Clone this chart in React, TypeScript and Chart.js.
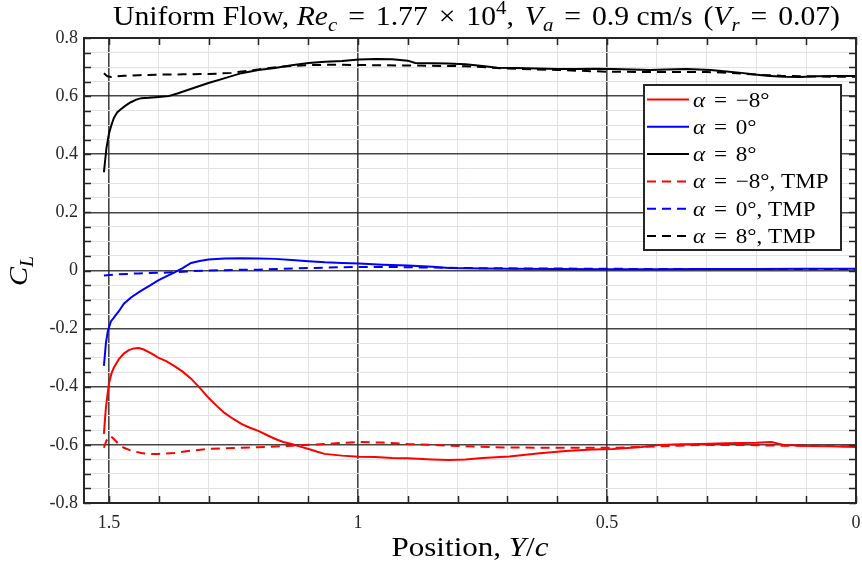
import React, { useEffect, useRef } from 'react';
import { Chart, registerables } from 'chart.js';

Chart.register(...registerables);

// ---------- data ----------
const RED_X = [1.510, 1.508, 1.506, 1.503, 1.500, 1.495, 1.490, 1.480, 1.470, 1.460, 1.450, 1.440, 1.430, 1.415, 1.401, 1.385, 1.369, 1.352, 1.335, 1.318, 1.300, 1.284, 1.268, 1.251, 1.234, 1.217, 1.200, 1.183, 1.167, 1.150, 1.133, 1.116, 1.099, 1.083, 1.067, 1.032, 0.998, 0.965, 0.931, 0.900, 0.851, 0.817, 0.784, 0.750, 0.696, 0.640, 0.583, 0.530, 0.488, 0.430, 0.393, 0.350, 0.313, 0.260, 0.200, 0.170, 0.145, 0.100, 0.050, 0.000];
const RED_Y = [-0.562, -0.515, -0.472, -0.430, -0.390, -0.355, -0.334, -0.305, -0.286, -0.274, -0.268, -0.267, -0.272, -0.285, -0.300, -0.312, -0.328, -0.348, -0.372, -0.403, -0.438, -0.465, -0.490, -0.510, -0.528, -0.541, -0.552, -0.566, -0.579, -0.590, -0.597, -0.606, -0.614, -0.623, -0.631, -0.637, -0.641, -0.642, -0.645, -0.646, -0.650, -0.652, -0.650, -0.645, -0.640, -0.630, -0.621, -0.616, -0.614, -0.607, -0.600, -0.598, -0.597, -0.594, -0.593, -0.590, -0.600, -0.604, -0.605, -0.607];

const BLUE_X = [1.510, 1.506, 1.502, 1.496, 1.490, 1.480, 1.470, 1.455, 1.435, 1.418, 1.401, 1.385, 1.369, 1.352, 1.335, 1.318, 1.300, 1.268, 1.234, 1.200, 1.167, 1.133, 1.099, 1.066, 1.032, 0.998, 0.950, 0.900, 0.850, 0.817, 0.750, 0.700, 0.600, 0.500, 0.400, 0.300, 0.200, 0.100, 0.000];
const BLUE_Y = [-0.328, -0.250, -0.207, -0.175, -0.162, -0.140, -0.114, -0.092, -0.069, -0.052, -0.034, -0.020, -0.007, 0.008, 0.026, 0.033, 0.038, 0.041, 0.042, 0.041, 0.040, 0.036, 0.032, 0.028, 0.026, 0.024, 0.020, 0.017, 0.013, 0.009, 0.007, 0.006, 0.005, 0.004, 0.004, 0.005, 0.005, 0.006, 0.006];

const BLACK_X = [1.510, 1.505, 1.500, 1.496, 1.490, 1.483, 1.476, 1.466, 1.456, 1.445, 1.435, 1.420, 1.400, 1.380, 1.361, 1.330, 1.300, 1.267, 1.234, 1.200, 1.167, 1.133, 1.099, 1.066, 1.032, 0.998, 0.965, 0.931, 0.900, 0.885, 0.850, 0.820, 0.784, 0.750, 0.720, 0.683, 0.640, 0.600, 0.560, 0.520, 0.488, 0.450, 0.413, 0.380, 0.340, 0.292, 0.260, 0.230, 0.212, 0.180, 0.145, 0.111, 0.080, 0.040, 0.000];
const BLACK_Y = [0.338, 0.420, 0.470, 0.495, 0.525, 0.545, 0.555, 0.568, 0.579, 0.588, 0.593, 0.594, 0.597, 0.600, 0.610, 0.628, 0.645, 0.662, 0.679, 0.690, 0.697, 0.706, 0.714, 0.718, 0.721, 0.726, 0.728, 0.727, 0.722, 0.714, 0.713, 0.712, 0.710, 0.704, 0.698, 0.697, 0.695, 0.693, 0.693, 0.694, 0.693, 0.692, 0.690, 0.692, 0.693, 0.690, 0.685, 0.680, 0.676, 0.670, 0.667, 0.666, 0.668, 0.669, 0.669];

const RED_TMP_X = [1.510, 1.505, 1.497, 1.490, 1.480, 1.470, 1.455, 1.435, 1.418, 1.401, 1.385, 1.369, 1.335, 1.300, 1.268, 1.200, 1.133, 1.066, 0.998, 0.950, 0.900, 0.850, 0.784, 0.700, 0.600, 0.488, 0.400, 0.313, 0.250, 0.200, 0.150, 0.100, 0.050, 0.000];
const RED_TMP_Y = [-0.610, -0.585, -0.569, -0.580, -0.598, -0.610, -0.620, -0.628, -0.631, -0.631, -0.630, -0.628, -0.620, -0.614, -0.612, -0.608, -0.603, -0.597, -0.590, -0.592, -0.597, -0.600, -0.605, -0.609, -0.610, -0.610, -0.605, -0.600, -0.600, -0.601, -0.603, -0.603, -0.604, -0.605];

const BLUE_TMP_X = [1.510, 1.480, 1.440, 1.400, 1.369, 1.330, 1.300, 1.250, 1.200, 1.150, 1.067, 1.000, 0.931, 0.850, 0.750, 0.650, 0.500, 0.400, 0.300, 0.200, 0.100, 0.000];
const BLUE_TMP_Y = [-0.017, -0.013, -0.010, -0.008, -0.006, -0.002, 0.000, 0.002, 0.003, 0.006, 0.010, 0.012, 0.012, 0.010, 0.008, 0.007, 0.006, 0.005, 0.005, 0.005, 0.005, 0.005];

const BLACK_TMP_X = [1.510, 1.503, 1.495, 1.470, 1.440, 1.400, 1.350, 1.300, 1.254, 1.200, 1.150, 1.100, 1.050, 1.000, 0.950, 0.880, 0.784, 0.700, 0.600, 0.500, 0.400, 0.300, 0.250, 0.200, 0.150, 0.100, 0.050, 0.000];
const BLACK_TMP_Y = [0.679, 0.668, 0.666, 0.670, 0.672, 0.674, 0.675, 0.676, 0.680, 0.692, 0.702, 0.707, 0.708, 0.707, 0.706, 0.705, 0.703, 0.695, 0.690, 0.684, 0.683, 0.683, 0.680, 0.674, 0.670, 0.668, 0.667, 0.667];

const ANGLES = ['\u22128', '0', '8'];
const X_TICK_VALUES = [0, 0.5, 1, 1.5];
const X_TICK_LABELS = ['0', '0.5', '1', '1.5'];
const Y_TICK_VALUES = [-0.8, -0.6, -0.4, -0.2, 0, 0.2, 0.4, 0.6, 0.8];
const Y_TICK_LABELS = ['-0.8', '-0.6', '-0.4', '-0.2', '0', '0.2', '0.4', '0.6', '0.8'];
const X_MINOR_STEPS = [0, 1, 2, 3, 4, 5, 6, 7, 8, 9, 10, 11, 12, 13, 14, 15]; // tenths
const Y_MINOR_STEPS = Array.from({ length: 33 }, (_, i) => i - 16); // twentieths

const FONT = '"Liberation Serif", "DejaVu Serif", serif';
const AXIS_COLOR = '#262626';

type Seg = { t?: string; i?: boolean; sub?: boolean; sup?: boolean; g?: boolean };

function segFont(s: Seg, size: number) {
  const fs = s.sub || s.sup ? Math.round(size * 0.7) : size;
  return `${s.i ? 'italic ' : ''}${fs}px ${FONT}`;
}

function drawRich(
  ctx: CanvasRenderingContext2D, segs: Seg[], x: number, y: number, size: number,
  align: 'left' | 'center', opts: { target?: number; gap?: number; stretch?: number } = {},
) {
  const sx = opts.stretch ?? 1;
  let natural = 0;
  let nGaps = 0;
  for (const s of segs) {
    if (s.g) { nGaps++; continue; }
    ctx.font = segFont(s, size);
    natural += ctx.measureText(s.t || '').width;
  }
  let gap = opts.gap ?? 0;
  if (opts.target !== undefined && nGaps > 0) gap = (opts.target / sx - natural) / nGaps;
  const total = natural + gap * nGaps;
  ctx.save();
  ctx.translate(x, y);
  ctx.scale(sx, 1);
  let cx = align === 'center' ? -total / 2 : 0;
  ctx.textAlign = 'left';
  ctx.textBaseline = 'alphabetic';
  for (const s of segs) {
    if (s.g) { cx += gap; continue; }
    ctx.font = segFont(s, size);
    const dy = s.sub ? size * 0.22 : s.sup ? -size * 0.42 : 0;
    ctx.fillText(s.t || '', cx, dy);
    cx += ctx.measureText(s.t || '').width;
  }
  ctx.restore();
}

const G: Seg = { g: true };
const TITLE: Seg[] = [
  { t: 'Uniform Flow, ' }, { t: 'Re', i: true }, { t: 'c', i: true, sub: true },
  G, { t: '=' }, G, { t: '1.77' }, G, { t: '\u00d7' }, G, { t: '10' }, { t: '4', sup: true }, { t: ',' }, G,
  { t: 'V', i: true }, { t: 'a', i: true, sub: true }, G, { t: '=' }, G, { t: '0.9 cm/s' }, G, { t: '(' },
  { t: 'V', i: true }, { t: 'r', i: true, sub: true }, G, { t: '=' }, G, { t: '0.07)' },
];
const X_TITLE: Seg[] = [{ t: 'Position, ' }, { t: 'Y', i: true }, { t: '/' }, { t: 'c', i: true }];
const Y_TITLE: Seg[] = [{ t: 'C', i: true }, { t: 'L', i: true, sub: true }];

const pts = (xs: number[], ys: number[]) => xs.map((x, k) => ({ x, y: ys[k] }));

const isMajorX = (v: number) => X_TICK_VALUES.some((m) => Math.abs(m - v) < 1e-6);
const isMajorY = (v: number) => Y_TICK_VALUES.some((m) => Math.abs(m - v) < 1e-6);

const decorPlugin = {
  id: 'decor',
  afterDatasetsDraw(chart: any) {
    const ctx = chart.ctx as CanvasRenderingContext2D;
    const { left, right, top, bottom } = chart.chartArea;
    const xs = chart.scales.x;
    const ys = chart.scales.y;
    ctx.save();
    ctx.strokeStyle = AXIS_COLOR;
    ctx.lineWidth = 1.5;
    const tl = 7;
    ctx.beginPath();
    for (const s of X_MINOR_STEPS) {
      const px = Math.round(xs.getPixelForValue(s / 10)) + 0.5;
      ctx.moveTo(px, bottom); ctx.lineTo(px, bottom - tl);
      ctx.moveTo(px, top); ctx.lineTo(px, top + tl);
    }
    for (const s of Y_MINOR_STEPS) {
      const py = Math.round(ys.getPixelForValue(s / 20)) + 0.5;
      ctx.moveTo(left, py); ctx.lineTo(left + tl, py);
      ctx.moveTo(right, py); ctx.lineTo(right - tl, py);
    }
    ctx.stroke();
    ctx.lineWidth = 2;
    ctx.strokeRect(left, top, right - left, bottom - top);

    // legend
    const lx = right - 212, ly = top + 47, lw = 197, lh = 165;
    ctx.fillStyle = '#ffffff';
    ctx.fillRect(lx, ly, lw, lh);
    ctx.lineWidth = 2;
    ctx.strokeStyle = AXIS_COLOR;
    ctx.strokeRect(lx, ly, lw, lh);
    chart.data.datasets.forEach((ds: any) => {
      const row = ds.legendRow;
      const cy = ly + 14.5 + row * 27.3;
      ctx.beginPath();
      ctx.strokeStyle = ds.borderColor;
      ctx.lineWidth = 2;
      ctx.setLineDash(ds.borderDash || []);
      ctx.moveTo(lx + 3, cy); ctx.lineTo(lx + 45, cy);
      ctx.stroke();
      ctx.setLineDash([]);
      ctx.fillStyle = '#000';
      const segs: Seg[] = [{ t: '\u03b1', i: true }, G, { t: '=' }, G, { t: `${ANGLES[ds.angleIdx]}\u00b0${ds.tmp ? ', TMP' : ''}` }];
      drawRich(ctx, segs, lx + 49, cy + 7, 21, 'left', { gap: 8, stretch: 1.1 });
    });

    // titles
    ctx.fillStyle = '#000';
    drawRich(ctx, TITLE, 476.5, 25, 27, 'center', { target: 727, stretch: 1.1 });
    drawRich(ctx, X_TITLE, 470, 556, 27, 'center', { stretch: 1.15 });
    ctx.translate(27, 271);
    ctx.rotate(-Math.PI / 2);
    drawRich(ctx, Y_TITLE, 0, 0, 26, 'center', { stretch: 1.1 });
    ctx.restore();
  },
};

export default function App() {
  const ref = useRef<HTMLCanvasElement>(null);
  useEffect(() => {
    const mk = (label: string, xs: number[], ys: number[], color: string, tmp: boolean, angleIdx: number, legendRow: number) => ({
      label,
      data: pts(xs, ys),
      borderColor: color,
      backgroundColor: color,
      borderWidth: 2,
      borderDash: tmp ? [9, 6] : [],
      pointRadius: 0,
      fill: false,
      tension: 0,
      order: tmp ? 0 : 1,
      tmp,
      angleIdx,
      legendRow,
    });
    const chart = new Chart(ref.current!, {
      type: 'line',
      data: {
        datasets: [
          mk('\u03b1 = \u22128\u00b0', RED_X, RED_Y, '#ff0000', false, 0, 0),
          mk('\u03b1 = 0\u00b0', BLUE_X, BLUE_Y, '#0000ff', false, 1, 1),
          mk('\u03b1 = 8\u00b0', BLACK_X, BLACK_Y, '#000000', false, 2, 2),
          mk('\u03b1 = \u22128\u00b0, TMP', RED_TMP_X, RED_TMP_Y, '#ff0000', true, 0, 3),
          mk('\u03b1 = 0\u00b0, TMP', BLUE_TMP_X, BLUE_TMP_Y, '#0000ff', true, 1, 4),
          mk('\u03b1 = 8\u00b0, TMP', BLACK_TMP_X, BLACK_TMP_Y, '#000000', true, 2, 5),
        ] as any,
      },
      options: {
        responsive: false,
        animation: false,
        devicePixelRatio: 1,
        layout: { padding: { top: 38, right: 6, left: 0, bottom: 0 } },
        plugins: { legend: { display: false }, tooltip: { enabled: false }, title: { display: false } },
        scales: {
          x: {
            type: 'linear',
            reverse: true,
            min: 0,
            max: 1.55,
            afterBuildTicks: (s: any) => { s.ticks = X_MINOR_STEPS.map((k) => ({ value: k / 10 })); },
            afterFit: (s: any) => { s.height = 66; },
            ticks: {
              autoSkip: false, maxRotation: 0, minRotation: 0, padding: 9, color: '#262626',
              font: { family: FONT, size: 18 },
              callback: (v: any) => {
                const idx = X_TICK_VALUES.findIndex((m) => Math.abs(m - Number(v)) < 1e-6);
                return idx >= 0 ? X_TICK_LABELS[idx] : '';
              },
            },
            grid: {
              drawTicks: false,
              color: (c: any) => (isMajorX(c.tick.value) ? 'rgba(38,38,38,0.85)' : '#e2e2e2'),
              lineWidth: (c: any) => (isMajorX(c.tick.value) ? 1.6 : 1),
            },
            border: { display: true, color: AXIS_COLOR, width: 2 },
          },
          y: {
            type: 'linear',
            min: -0.8,
            max: 0.8,
            afterBuildTicks: (s: any) => { s.ticks = Y_MINOR_STEPS.map((k) => ({ value: k / 20 })); },
            afterFit: (s: any) => { s.width = 84; },
            ticks: {
              autoSkip: false, padding: 6, color: '#262626',
              font: { family: FONT, size: 18 },
              callback: (v: any) => {
                const idx = Y_TICK_VALUES.findIndex((m) => Math.abs(m - Number(v)) < 1e-6);
                return idx >= 0 ? Y_TICK_LABELS[idx] : '';
              },
            },
            grid: {
              drawTicks: false,
              color: (c: any) => (isMajorY(c.tick.value) ? 'rgba(38,38,38,0.85)' : '#e2e2e2'),
              lineWidth: (c: any) => (isMajorY(c.tick.value) ? 1.6 : 1),
            },
            border: { display: true, color: AXIS_COLOR, width: 2 },
          },
        },
      } as any,
      plugins: [decorPlugin],
    });
    return () => chart.destroy();
  }, []);
  return (
    <div style={{ position: 'fixed', left: 0, top: 0, width: 862, height: 569, background: '#fff' }}>
      <canvas ref={ref} width={862} height={569} style={{ display: 'block', width: 862, height: 569 }} />
    </div>
  );
}
